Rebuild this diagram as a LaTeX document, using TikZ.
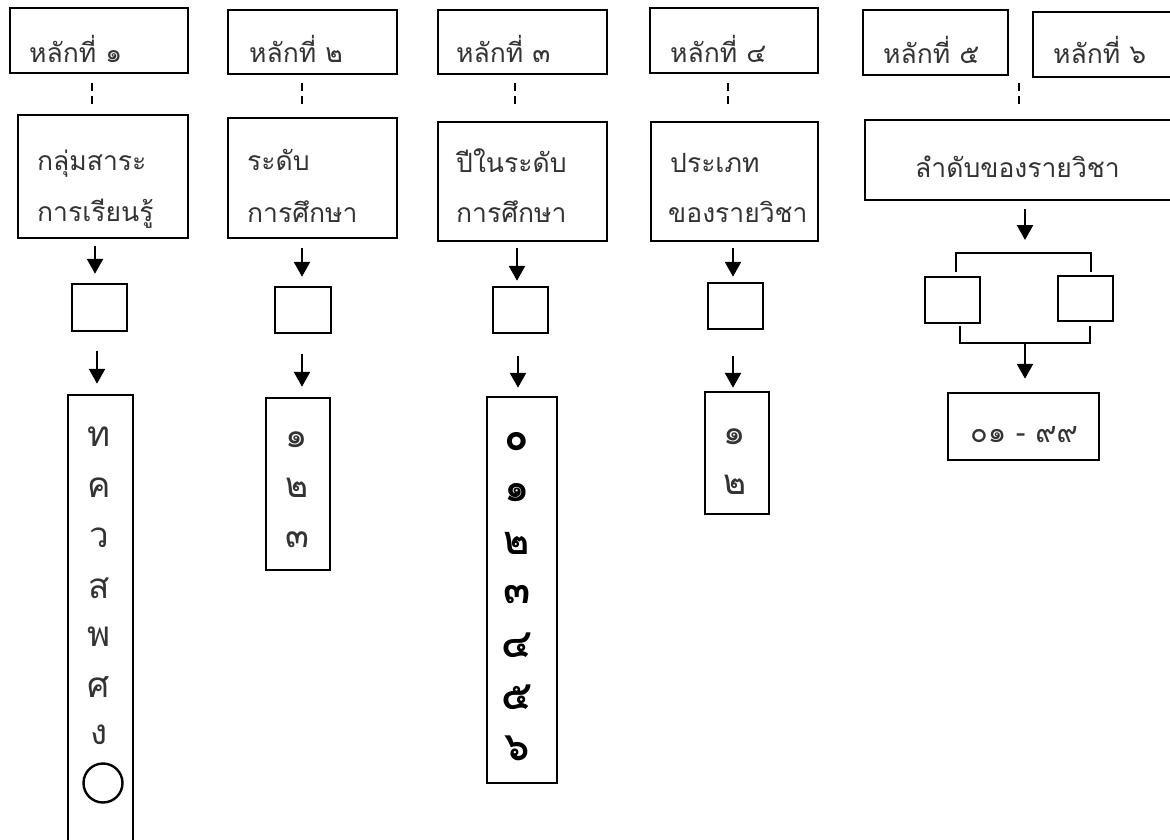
\documentclass[tikz,border=0pt]{standalone}
\usepackage{fontspec}
\newfontfamily\thai[Script=Thai]{Loma}
\usetikzlibrary{arrows.meta}
\tikzset{
  bx/.style={draw=black, line width=2.5pt, rectangle, inner sep=0pt},
  lbl/.style={font=\thai\fontsize{26.5}{30}\selectfont, text=black!80, inner sep=0pt, anchor=base west},
  chr/.style={font=\thai\fontsize{35}{38}\selectfont, text=black!80, inner sep=0pt},
  bchr/.style={font=\thai\bfseries\fontsize{40}{42}\selectfont, text=black, inner sep=0pt},
  arr/.style={line width=2.5pt, -{Triangle[width=16pt,length=15pt]}},
  dsh/.style={line width=2.6pt, dash pattern=on 8pt off 5pt},
  ln/.style={line width=2.6pt}
}
\begin{document}
\begin{tikzpicture}[x=1pt,y=-1pt]
\useasboundingbox (0,0) rectangle (1170,839);
\clip (0,0) rectangle (1170,839);
% header boxes
\node[bx, minimum width=178pt, minimum height=65pt] (h1) at (99,40.5) {};
\node[bx, minimum width=169pt, minimum height=64pt] (h2) at (312.5,42) {};
\node[bx, minimum width=169pt, minimum height=64pt] (h3) at (522.5,42) {};
\node[bx, minimum width=168pt, minimum height=65pt] (h4) at (734,40.5) {};
\node[bx, minimum width=145pt, minimum height=65pt] (h5) at (935.5,42.5) {};
\node[bx, minimum width=157pt, minimum height=65pt] (h6) at (1111.5,44.5) {};
\node[lbl] (h1t) at (29,62) {หลักที่ ๑};
\node[lbl] (h2t) at (249,62) {หลักที่ ๒};
\node[lbl] (h3t) at (456,62) {หลักที่ ๓};
\node[lbl] (h4t) at (670,62) {หลักที่ ๔};
\node[lbl] (h5t) at (883,63) {หลักที่ ๕};
\node[lbl] (h6t) at (1053,63) {หลักที่ ๖};
% second row
\node[bx, minimum width=170pt, minimum height=123pt] (r1) at (103,176.5) {};
\node[bx, minimum width=169pt, minimum height=120pt] (r2) at (312.5,178) {};
\node[bx, minimum width=169pt, minimum height=119pt] (r3) at (522.5,181.5) {};
\node[bx, minimum width=167pt, minimum height=119pt] (r4) at (734.5,181.5) {};
\node[bx, minimum width=325pt, minimum height=80pt] (r5) at (1027.5,160) {};
\node[lbl] (r1a) at (37,170) {กลุ่มสาระ};
\node[lbl] (r1b) at (37,221) {การเรียนรู้};
\node[lbl] (r2a) at (247,170) {ระดับ};
\node[lbl] (r2b) at (247,222) {การศึกษา};
\node[lbl] (r3a) at (456,172) {ปีในระดับ};
\node[lbl] (r3b) at (456,222) {การศึกษา};
\node[lbl] (r4a) at (670,172) {ประเภท};
\node[lbl] (r4b) at (668,222) {ของรายวิชา};
\node[lbl] (r5a) at (915,177) {ลำดับของรายวิชา};
% dashed connectors
\draw[dsh] ([xshift=-7pt,yshift=-9pt]h1.south) -- ([xshift=-11pt,yshift=7pt]r1.north);
\draw[dsh] ([xshift=-10.5pt,yshift=-8pt]h2.south) -- ([xshift=-10.5pt,yshift=10pt]r2.north);
\draw[dsh] ([xshift=-7.5pt,yshift=-8pt]h3.south) -- ([xshift=-7.5pt,yshift=14pt]r3.north);
\draw[dsh] ([xshift=-6pt,yshift=-9pt]h4.south) -- ([xshift=-6.5pt,yshift=14pt]r4.north);
\draw[dsh] ([xshift=83.5pt,yshift=-7pt]h5.south) -- ([xshift=-8.5pt,yshift=12pt]r5.north);
% small boxes
\node[bx, minimum width=55pt, minimum height=47pt] (s1) at (99.5,307.5) {};
\node[bx, minimum width=56pt, minimum height=46pt] (s2) at (303,310) {};
\node[bx, minimum width=55pt, minimum height=46pt] (s3) at (520.5,310) {};
\node[bx, minimum width=55pt, minimum height=46pt] (s4) at (735.5,306) {};
\node[bx, minimum width=55pt, minimum height=46pt] (s5a) at (952.5,300) {};
\node[bx, minimum width=55pt, minimum height=45pt] (s5b) at (1085.5,298.5) {};
% tall boxes
\node[bx, minimum width=65pt, minimum height=505pt] (t1) at (100.5,647.5) {};
\node[bx, minimum width=64pt, minimum height=172pt] (t2) at (298,484) {};
\node[bx, minimum width=70pt, minimum height=386pt] (t3) at (522,590) {};
\node[bx, minimum width=64pt, minimum height=122pt] (t4) at (737,453) {};
\node[bx, minimum width=151pt, minimum height=67pt] (t5) at (1023.5,426.5) {};
% arrows row -> small
\draw[arr] ([xshift=-8pt,yshift=-7pt]r1.south) -- ([xshift=-4.5pt,yshift=9pt]s1.north);
\draw[arr] ([xshift=-10.5pt,yshift=-9pt]r2.south) -- ([xshift=-1pt,yshift=9pt]s2.north);
\draw[arr] ([xshift=-5.5pt,yshift=-6pt]r3.south) -- ([xshift=-3.5pt,yshift=5pt]s3.north);
\draw[arr] ([xshift=-1.5pt,yshift=-6pt]r4.south) -- ([xshift=-2.5pt,yshift=5pt]s4.north);
% arrows small -> tall
\draw[arr] ([xshift=-2.5pt,yshift=-19pt]s1.south) -- ([xshift=-3.5pt,yshift=10pt]t1.north);
\draw[arr] ([xshift=-1pt,yshift=-20pt]s2.south) -- ([xshift=4pt,yshift=10pt]t2.north);
\draw[arr] ([xshift=-2.5pt,yshift=-22pt]s3.south) -- ([xshift=-4pt,yshift=8pt]t3.north);
\draw[arr] ([xshift=-2.5pt,yshift=-26pt]s4.south) -- ([xshift=-4pt,yshift=3pt]t4.north);
% right branch
\coordinate (jt) at (1025,253);
\coordinate (jb) at (1025,343);
\draw[arr] ([xshift=-2.5pt,yshift=-8pt]r5.south) -- ([yshift=13pt]jt);
\draw[ln] ([xshift=3.5pt,yshift=4pt]s5a.north) |- (jt) -| ([xshift=5.5pt,yshift=3pt]s5b.north);
\draw[ln] ([xshift=7.5pt,yshift=-2pt]s5a.south) |- (jb) -| ([xshift=4.5pt,yshift=-4pt]s5b.south);
\draw[arr] (jb) -- ([xshift=1.5pt,yshift=13pt]t5.north);
% column texts
\node[chr] (c1a) at (99,437) {ท};
\node[chr] (c1b) at (99,488) {ค};
\node[chr] (c1c) at (99,538) {ว};
\node[chr] (c1d) at (99,588) {ส};
\node[chr] (c1e) at (99,637) {พ};
\node[chr] (c1f) at (99,687) {ศ};
\node[chr] (c1g) at (99,735) {ง};
\node[draw=black, line width=2.4pt, circle, minimum size=39pt, inner sep=0pt] (c1h) at (103,783) {};
\node[chr] (c2a) at (297,440) {๑};
\node[chr] (c2b) at (297,488) {๒};
\node[chr] (c2c) at (297,540) {๓};
\node[bchr] (c3a) at (517,442) {๐};
\node[bchr] (c3b) at (517,493) {๑};
\node[bchr] (c3c) at (517,543) {๒};
\node[bchr] (c3d) at (517,595) {๓};
\node[bchr] (c3e) at (517,645) {๔};
\node[bchr] (c3f) at (517,697) {๕};
\node[bchr] (c3g) at (517,748) {๖};
\node[chr] (c4a) at (735,437) {๑};
\node[chr] (c4b) at (735,485) {๒};
\node[chr, font=\thai\fontsize{29}{32}\selectfont] (c5) at (1024,435) {๐๑ - ๙๙};
\end{tikzpicture}
\end{document}
